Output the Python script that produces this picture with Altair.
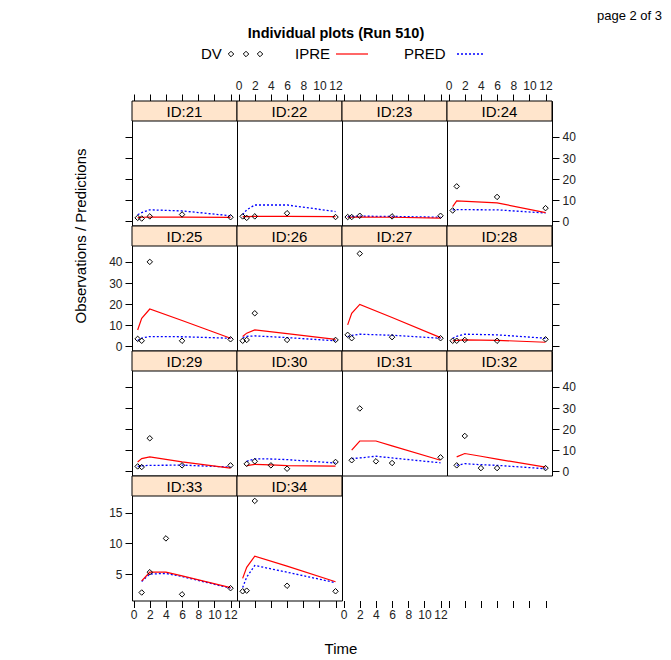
import altair as alt
import pandas as pd

# ---------------- data ----------------
IDS = [21, 22, 23, 24, 25, 26, 27, 28, 29, 30, 31, 32, 33, 34]
TIMES_A = [0.5, 1, 2, 6, 12]
TIMES_B = [1, 2, 4, 6, 12]
TIMES = {
    21: TIMES_A, 22: TIMES_A, 23: TIMES_A, 24: [0.5, 1, 6, 12],
    25: TIMES_A, 26: TIMES_A, 27: TIMES_A, 28: TIMES_A,
    29: TIMES_A, 30: TIMES_B, 31: TIMES_B, 32: TIMES_B,
    33: TIMES_B, 34: TIMES_A,
}
DV = {
    21: [1.7, 1.4, 2.4, 3.3, 2.0],
    22: [2.4, 1.7, 2.4, 3.9, 2.1],
    23: [2.1, 2.1, 2.7, 2.4, 2.7],
    24: [5.2, 16.6, 11.6, 6.3],
    25: [3.6, 2.7, 40.0, 2.7, 3.4],
    26: [2.7, 3.1, 15.7, 3.1, 3.1],
    27: [5.5, 3.9, 43.9, 4.4, 3.9],
    28: [2.7, 2.7, 3.1, 2.7, 3.4],
    29: [2.4, 2.1, 15.7, 2.9, 2.9],
    30: [3.6, 4.8, 2.9, 1.3, 4.5],
    31: [5.3, 29.8, 4.8, 4.0, 6.7],
    32: [2.9, 16.8, 1.6, 1.6, 1.6],
    33: [2.0, 5.3, 10.8, 1.7, 2.7],
    34: [2.2, 2.3, 16.9, 3.1, 2.2],
}
IPRE = {
    21: [1.8, 2.0, 2.1, 2.1, 1.9],
    22: [2.3, 2.3, 2.4, 2.4, 2.3],
    23: [2.0, 2.0, 2.1, 2.0, 1.6],
    24: [7.0, 9.7, 8.8, 4.2],
    25: [7.8, 13.3, 17.7, 12.3, 3.9],
    26: [4.7, 6.3, 7.8, 6.1, 3.4],
    27: [10.2, 15.7, 19.9, 13.7, 4.2],
    28: [2.6, 2.9, 3.1, 2.9, 2.0],
    29: [4.5, 6.1, 6.9, 4.5, 1.6],
    30: [2.8, 3.4, 3.1, 2.8, 2.5],
    31: [10.1, 14.4, 14.4, 12.1, 5.3],
    32: [6.9, 8.5, 7.2, 5.8, 2.1],
    33: [3.9, 5.3, 5.3, 4.7, 2.8],
    34: [4.3, 6.1, 7.9, 6.3, 3.75],
}
PRED = {
    21: [3.2, 4.2, 5.5, 5.0, 2.7],
    22: [3.2, 5.5, 7.8, 7.8, 4.7],
    23: [2.3, 2.4, 2.5, 2.4, 2.0],
    24: [5.5, 5.6, 5.5, 4.0],
    25: [2.8, 4.0, 4.7, 4.6, 3.9],
    26: [4.2, 4.8, 5.0, 4.2, 2.7],
    27: [4.7, 5.2, 5.8, 5.3, 3.9],
    28: [3.9, 4.8, 5.8, 5.5, 3.9],
    29: [2.4, 2.7, 2.9, 3.0, 2.1],
    30: [4.8, 6.0, 5.9, 5.6, 4.0],
    31: [6.1, 6.4, 7.2, 6.4, 4.1],
    32: [2.9, 3.7, 3.2, 2.9, 1.3],
    33: [3.8, 5.0, 5.1, 4.6, 2.7],
    34: [2.8, 4.5, 6.4, 5.3, 3.6],
}
TIME_TICKS = [0, 2, 4, 6, 8, 10, 12]
Y_TICKS_MAIN = [0, 10, 20, 30, 40]
Y_TICKS_LAST = [5, 10, 15]

records = []
for pid in IDS:
    for series, src in (("DV", DV), ("IPRE", IPRE), ("PRED", PRED)):
        for t, v in zip(TIMES[pid], src[pid]):
            records.append({"id": pid, "t": t, "s": series, "v": v})
df = pd.DataFrame(records)

# ---------------- layout ----------------
W = 105
H = 124.5
STRIP = 20
XDOM = [-0.2, 12.8]
YDOM_MAIN = [-1.9, 56.95]
YDOM_LAST = [0.7, 20.95]
FONT = "Liberation Sans"
LABEL_COLOR = "#222222"


def x_axis(orient, labels):
    return alt.Axis(orient=orient, values=TIME_TICKS, labels=labels, domain=False,
                    grid=False, ticks=True, tickSize=7, tickColor="black", tickWidth=1,
                    labelFontSize=12, labelColor=LABEL_COLOR, labelPadding=2,
                    labelFlush=False, labelOverlap=False, title=None)


def y_axis(orient, labels, values):
    return alt.Axis(orient=orient, values=values, labels=labels, domain=False,
                    grid=False, ticks=True, tickSize=7, tickColor="black", tickWidth=1,
                    labelFontSize=12, labelColor=LABEL_COLOR, labelPadding=3,
                    labelFlush=False, labelOverlap=False, title=None)


def annotations():
    one = pd.DataFrame({"a": [0]})
    c = alt.Chart(one)
    layers = [
        # invisible anchor fixing the page origin
        c.mark_rule(opacity=0).encode(x=alt.value(-123), x2=alt.value(-122), y=alt.value(-92)),
        c.mark_text(text="Individual plots (Run 510)", fontWeight="bold", fontSize=14.5,
                    align="center", baseline="middle", color="black", font=FONT)
         .encode(x=alt.value(204), y=alt.value(-67)),
        c.mark_text(text="page 2 of 3", fontSize=13, align="right", baseline="middle",
                    color="black", font=FONT).encode(x=alt.value(530), y=alt.value(-85)),
        c.mark_text(text="DV", fontSize=15, align="left", baseline="middle", color="black",
                    font=FONT).encode(x=alt.value(69), y=alt.value(-47)),
        c.mark_point(shape="diamond", size=30, filled=False, color="black", strokeWidth=1,
                     opacity=1).encode(x=alt.value(99), y=alt.value(-47)),
        c.mark_point(shape="diamond", size=30, filled=False, color="black", strokeWidth=1,
                     opacity=1).encode(x=alt.value(114), y=alt.value(-47)),
        c.mark_point(shape="diamond", size=30, filled=False, color="black", strokeWidth=1,
                     opacity=1).encode(x=alt.value(128), y=alt.value(-47)),
        c.mark_text(text="IPRE", fontSize=15, align="left", baseline="middle", color="black",
                    font=FONT).encode(x=alt.value(163), y=alt.value(-47)),
        c.mark_rule(color="red", strokeWidth=1.2).encode(x=alt.value(204), x2=alt.value(236),
                                                          y=alt.value(-47)),
        c.mark_text(text="PRED", fontSize=15, align="left", baseline="middle", color="black",
                    font=FONT).encode(x=alt.value(272), y=alt.value(-47)),
        c.mark_rule(color="blue", strokeWidth=1.3, strokeDash=[2, 2]).encode(
            x=alt.value(325), x2=alt.value(352), y=alt.value(-47)),
        c.mark_text(text="Observations / Predictions", fontSize=15, angle=270, align="center",
                    baseline="middle", color="black", font=FONT)
         .encode(x=alt.value(-51), y=alt.value(135)),
        c.mark_text(text="Time", fontSize=15, align="center", baseline="middle", color="black",
                    font=FONT).encode(x=alt.value(209), y=alt.value(548)),
    ]
    return layers


def panel(pid, row, col):
    d = df[df.id == pid]
    last_row = row == 3
    ydom = YDOM_LAST if last_row else YDOM_MAIN
    yvals = Y_TICKS_LAST if last_row else Y_TICKS_MAIN

    if row == 0:
        xa = x_axis("top", col in (1, 3))
    elif row == 3:
        xa = x_axis("bottom", col in (0, 2))
    else:
        xa = None

    if col == 0:
        ya = y_axis("left", row in (1, 3), yvals)
    elif col == 3:
        ya = y_axis("right", row in (0, 2), yvals)
    else:
        ya = None

    base = alt.Chart(d).encode(
        x=alt.X("t:Q", scale=alt.Scale(domain=XDOM, nice=False, zero=False), axis=xa),
        y=alt.Y("v:Q", scale=alt.Scale(domain=ydom, nice=False, zero=False), axis=ya),
    )
    pred = base.transform_filter("datum.s == 'PRED'").mark_line(
        color="blue", strokeWidth=1.3, strokeDash=[2, 2])
    ipre = base.transform_filter("datum.s == 'IPRE'").mark_line(color="red", strokeWidth=1.2)
    dv = base.transform_filter("datum.s == 'DV'").mark_point(
        shape="diamond", size=30, filled=False, color="black", strokeWidth=1, opacity=1)

    lab = alt.Chart(pd.DataFrame({"lab": [f"ID:{pid}"]}))
    strip_bg = lab.mark_rect(fill="#FFE5CC", stroke="black", strokeWidth=1).encode(
        x=alt.value(0), x2=alt.value(W), y=alt.value(0), y2=alt.value(STRIP))
    strip_tx = lab.mark_text(fontSize=15, align="center", baseline="middle", color="black",
                             font=FONT).encode(x=alt.value(W / 2), y=alt.value(STRIP / 2 + 0.5),
                                               text="lab:N")
    layers = [strip_bg, strip_tx, pred, ipre, dv]
    if pid == IDS[0]:
        layers += annotations()
    return alt.layer(*layers).properties(
        width=W, height=H, view=alt.ViewBackground(stroke="black", strokeWidth=1, fill="white"))


def empty_cell(col):
    d = pd.DataFrame({"t": [0.0]})
    return alt.Chart(d).mark_point(opacity=0).encode(
        x=alt.X("t:Q", scale=alt.Scale(domain=XDOM, nice=False, zero=False),
                axis=x_axis("bottom", col in (0, 2))),
        y=alt.value(0),
    ).properties(width=W, height=H, view=alt.ViewBackground(strokeOpacity=0))


cells = []
for r in range(4):
    for c in range(4):
        i = r * 4 + c
        if i < len(IDS):
            cells.append(panel(IDS[i], r, c))
        else:
            cells.append(empty_cell(c))

chart = alt.concat(*cells, columns=4, spacing=0, bounds="flush").properties(padding=0).configure(
    font=FONT).configure_axis(labelFont=FONT)

chart.save("out.html", embed_options={"renderer": "svg", "actions": False})
